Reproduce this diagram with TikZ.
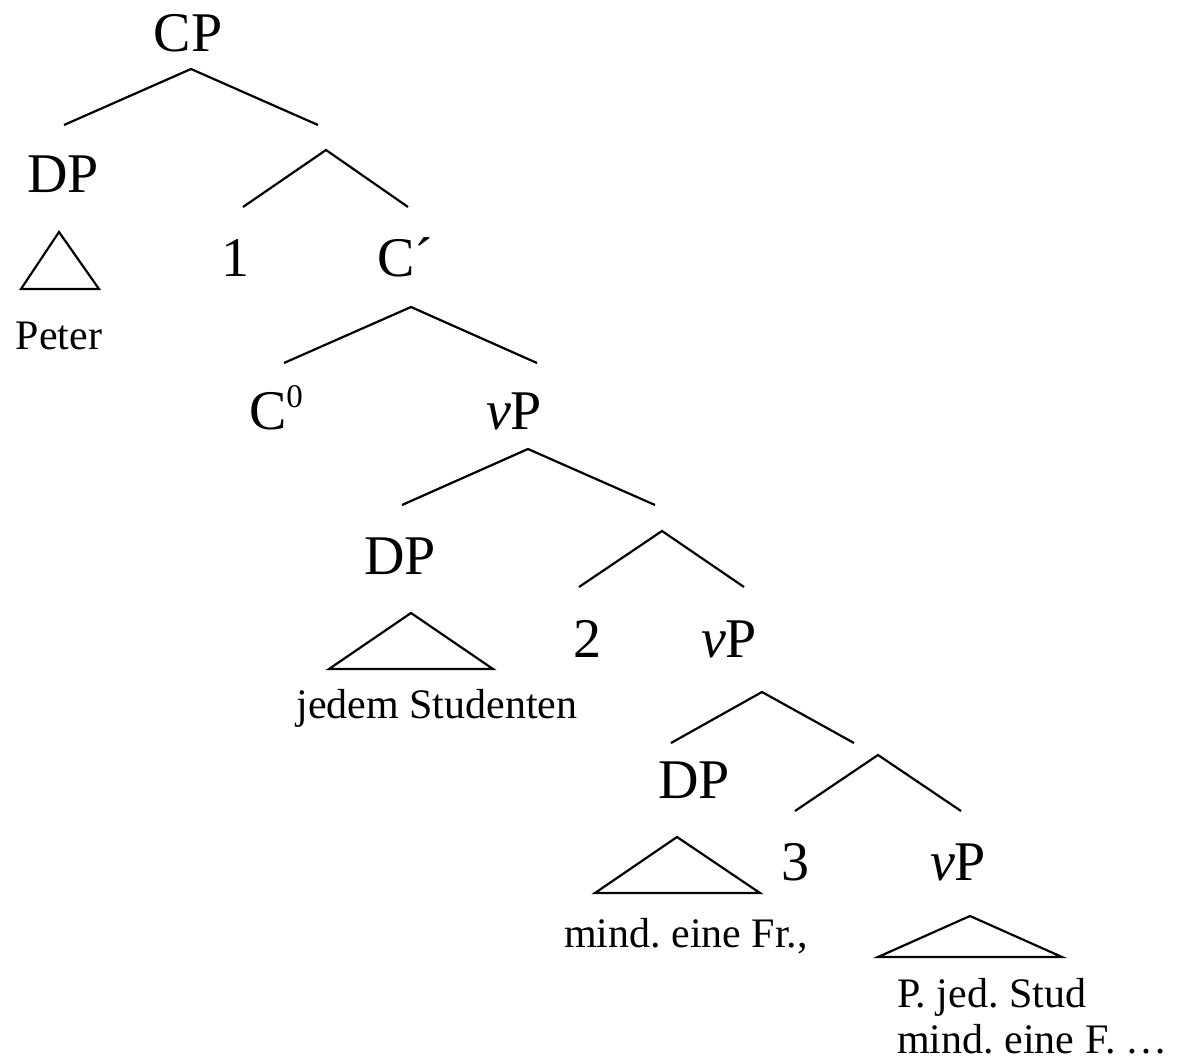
\documentclass[tikz,border=0pt]{standalone}
\usepackage{fontspec}
\setmainfont{Liberation Serif}
\frenchspacing
\begin{document}
\begin{tikzpicture}[x=1pt,y=-1pt,
  big/.style={anchor=base,inner sep=0pt,font=\fontsize{56}{60}\selectfont},
  small/.style={anchor=base,inner sep=0pt,font=\fontsize{42}{46}\selectfont},
  branch/.style={line width=2.2pt,line join=miter},
  tri/.style={line width=2.2pt,line join=miter}]
\useasboundingbox (0,0) rectangle (1179,1064);
% labels
\node[big] (cp) at (188,52) {CP};
\node[big] (dp1) at (63,193) {DP};
\node[small] (peter) at (59,350) {Peter};
\node[big] (one) at (235,277) {1};
\node[big] (cbar) at (405,277) {C´};
\node[big] (c0) at (276,430) {C\raisebox{0.41em}{\fontsize{33}{33}\selectfont 0}};
\node[big] (vp1) at (514,430) {\textit{v}P};
\node[big] (dp2) at (400,575) {DP};
\node[small] (js) at (437,718) {jedem Studenten};
\node[big] (two) at (587,657) {2};
\node[big] (vp2) at (729,657) {\textit{v}P};
\node[big] (dp3) at (694,798) {DP};
\node[small] (mef) at (686,947) {mind. eine Fr.,};
\node[big] (three) at (795,880) {3};
\node[big] (vp3) at (958,880) {\textit{v}P};
\node[small,anchor=base west] (pjs) at (897,1007) {P. jed. Stud};
\node[small,anchor=base west] (mef2) at (897,1053) {mind. eine F. …};
% branch coordinates
\coordinate (a0) at (191,69);  \coordinate (a0l) at (64,125);  \coordinate (a0r) at (318,125);
\coordinate (a1) at (326,150); \coordinate (a1l) at (243,207); \coordinate (a1r) at (408,207);
\coordinate (a2) at (411,307); \coordinate (a2l) at (284,363); \coordinate (a2r) at (537,363);
\coordinate (a3) at (528,449); \coordinate (a3l) at (402,505); \coordinate (a3r) at (655,505);
\coordinate (a4) at (662,531); \coordinate (a4l) at (579,587); \coordinate (a4r) at (744,587);
\coordinate (a5) at (762,692); \coordinate (a5l) at (671,743); \coordinate (a5r) at (854,743);
\coordinate (a6) at (878,755); \coordinate (a6l) at (795,811); \coordinate (a6r) at (961,811);
\draw[branch] (a0l) -- (a0) -- (a0r);
\draw[branch] (a1l) -- (a1) -- (a1r);
\draw[branch] (a2l) -- (a2) -- (a2r);
\draw[branch] (a3l) -- (a3) -- (a3r);
\draw[branch] (a4l) -- (a4) -- (a4r);
\draw[branch] (a5l) -- (a5) -- (a5r);
\draw[branch] (a6l) -- (a6) -- (a6r);
% triangles
\coordinate (t1) at (59,232);  \coordinate (t1l) at (21,289);  \coordinate (t1r) at (99,289);
\coordinate (t2) at (411,613); \coordinate (t2l) at (329,669); \coordinate (t2r) at (493,669);
\coordinate (t3) at (677,837); \coordinate (t3l) at (595,893); \coordinate (t3r) at (760,893);
\coordinate (t4) at (970,916); \coordinate (t4l) at (878,957); \coordinate (t4r) at (1062,957);
\draw[tri] (t1) -- (t1r) -- (t1l) -- cycle;
\draw[tri] (t2) -- (t2r) -- (t2l) -- cycle;
\draw[tri] (t3) -- (t3r) -- (t3l) -- cycle;
\draw[tri] (t4) -- (t4r) -- (t4l) -- cycle;
\end{tikzpicture}
\end{document}
